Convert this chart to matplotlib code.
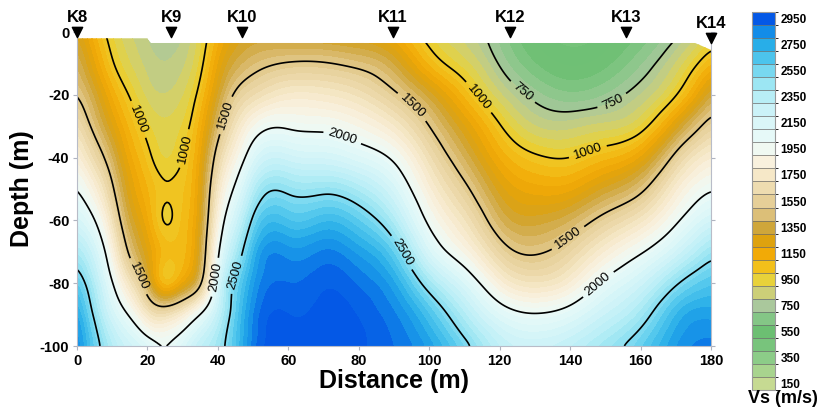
import numpy as np
import matplotlib
matplotlib.use("Agg")
import matplotlib.pyplot as plt
import matplotlib.tri as mtri
from matplotlib.colors import ListedColormap, BoundaryNorm, LinearSegmentedColormap, Normalize
from matplotlib.patches import Polygon
from matplotlib.cm import ScalarMappable

plt.rcParams["font.family"] = ["Liberation Sans", "DejaVu Sans"]
plt.rcParams["axes.unicode_minus"] = False

# grid (distance in m, depth in m)
dist = [0, 5, 10, 15, 20, 25, 30, 35, 40, 45, 50, 60, 70, 80, 90, 100, 110, 120, 130, 140, 150, 160, 170, 180]
depth = [0, -10, -20, -30, -40, -50, -60, -70, -80, -90, -100]

# Vs (m/s) per distance column, top to bottom
vs_columns = [
    [1300, 1400, 1510, 1670, 1840, 2010, 2180, 2400, 2620, 2780, 2860],  # 0
    [1100, 1200, 1330, 1450, 1620, 1820, 2010, 2200, 2350, 2470, 2580],  # 5
    [940, 1010, 1130, 1250, 1390, 1530, 1680, 1840, 2010, 2180, 2350],   # 10
    [850, 900, 990, 1080, 1160, 1240, 1330, 1460, 1700, 1980, 2220],     # 15
    [800, 830, 880, 960, 1030, 1100, 1160, 1250, 1380, 1720, 2120],      # 20
    [725, 800, 850, 910, 940, 1002, 975, 1060, 1045, 1650, 1990],        # 25
    [790, 835, 890, 950, 995, 1040, 1060, 1080, 1200, 1780, 2120],       # 30
    [900, 960, 1040, 1120, 1180, 1220, 1250, 1300, 1440, 2005, 2300],    # 35
    [1120, 1200, 1300, 1430, 1590, 1730, 1850, 1980, 2140, 2280, 2420],  # 40
    [1250, 1360, 1530, 1700, 1860, 2030, 2200, 2370, 2540, 2600, 2640],  # 45
    [1300, 1440, 1640, 1900, 2120, 2340, 2540, 2700, 2790, 2850, 2880],  # 50
    [1260, 1510, 1760, 1980, 2220, 2465, 2650, 2820, 2900, 2950, 2965],  # 60
    [1250, 1510, 1750, 1960, 2190, 2460, 2690, 2860, 2940, 2975, 2985],  # 70
    [1220, 1460, 1680, 1890, 2110, 2380, 2600, 2780, 2890, 2945, 2965],  # 80
    [1150, 1340, 1530, 1750, 1970, 2170, 2370, 2590, 2760, 2860, 2900],  # 90
    [930, 1080, 1320, 1500, 1660, 1810, 1960, 2150, 2420, 2650, 2780],   # 100
    [820, 920, 1080, 1250, 1390, 1540, 1700, 1880, 2140, 2360, 2550],    # 110
    [680, 740, 860, 1010, 1140, 1270, 1400, 1580, 1820, 2100, 2300],     # 120
    [520, 600, 720, 850, 1020, 1170, 1320, 1480, 1700, 2010, 2240],      # 130
    [470, 540, 660, 830, 1000, 1180, 1390, 1590, 1800, 2080, 2300],      # 140
    [500, 580, 700, 870, 1080, 1310, 1560, 1800, 2040, 2250, 2430],      # 150
    [600, 690, 800, 950, 1200, 1460, 1720, 1980, 2220, 2420, 2590],      # 160
    [720, 850, 990, 1260, 1550, 1780, 1970, 2200, 2480, 2700, 2800],     # 170
    [900, 1100, 1350, 1580, 1800, 1990, 2200, 2450, 2640, 2780, 2870],   # 180
]

# ground surface along the profile
surf_dist = [0, 19.9, 21, 175.5, 180, 180, 0]
surf_depth = [-2, -2, -3.5, -3.5, -5.7, -100, -100]

stations = ["K8", "K9", "K10", "K11", "K12", "K13", "K14"]
station_dist = [0, 26.7, 46.8, 89.7, 122.9, 156, 180]
station_depth = [0, 0, 0, 0, 0, 0, -2]

band_centers = np.arange(150, 3000, 100)
line_levels = [750, 1000, 1500, 2000, 2500]
label_pos = [(17, -28), (30, -37), (17, -78), (38.6, -78), (44.3, -77),
             (40.6, -26), (75.5, -33), (95, -24), (92.6, -70), (113.8, -21),
             (126.6, -19), (151.9, -22), (145, -38), (139, -65), (148.5, -81)]

colors = ['#c6da92', '#a8d48e', '#8ccc88', '#78c47c', '#6cbf72', '#84c686',
          '#aac89c', '#cccf78', '#e8d23a', '#f2c01a', '#f2aa06', '#dea20e',
          '#cfa63a', '#dcbf78', '#e6cf98', '#eedcb0', '#f6e8c8', '#f9f1de',
          '#f0f9f2', '#e6f9f8', '#daf6f8', '#cbf2f8', '#b8eef6', '#9ce6f3',
          '#78d8f0', '#4cc4ec', '#28aee8', '#128ce8', '#0458e6']

# discrete bar, smooth-ish fill
cmap_bar = ListedColormap(colors)
norm_bar = BoundaryNorm(np.arange(100, 3001, 100), cmap_bar.N)
pos = (band_centers - 150) / 2800
cmap_fill = LinearSegmentedColormap.from_list('vs', list(zip(pos, colors)))
norm_fill = Normalize(150, 2950)

fig = plt.figure(figsize=(8.18, 4.11), dpi=100)
ax = fig.add_axes([77/818, 65/411, 634/818, 314/411])

# cubic surface through the grid (both cell diagonals averaged), then a light blur
X, Y = np.meshgrid(dist, depth)
Z = np.array(vs_columns, dtype=float).T
nr, nc = X.shape
idx = np.arange(nr * nc).reshape(nr, nc)
a, b = idx[:-1, :-1].ravel(), idx[:-1, 1:].ravel()
c, d = idx[1:, :-1].ravel(), idx[1:, 1:].ravel()
xf = np.linspace(0, 180, 361)
yf = np.linspace(-100, 0, 201)
XF, YF = np.meshgrid(xf, yf)
ZF = np.zeros_like(XF)
for tris in ([np.column_stack([a, b, d]), np.column_stack([a, d, c])],
             [np.column_stack([a, b, c]), np.column_stack([b, d, c])]):
    tri = mtri.Triangulation(X.ravel(), Y.ravel(), np.vstack(tris))
    interp = mtri.CubicTriInterpolator(tri, Z.ravel(), kind='min_E')
    ZF += np.ma.filled(interp(XF, YF), np.nan) / 2


def blur(arr, sigma, axis):
    r = int(3 * sigma)
    k = np.exp(-0.5 * (np.arange(-r, r + 1) / sigma) ** 2)
    k /= k.sum()
    pad = [(0, 0), (0, 0)]
    pad[axis] = (r, r)
    p = np.pad(arr, pad, mode='edge')
    return np.apply_along_axis(lambda v: np.convolve(v, k, mode='valid'), axis, p)


ZF = blur(blur(ZF, 3.0, 1), 2.5, 0)
ZF = np.clip(ZF, 101, 2999)

clip = Polygon(np.column_stack([surf_dist, surf_depth]), closed=True,
               facecolor='none', edgecolor='none')
ax.add_patch(clip)

cf = ax.contourf(XF, YF, ZF, levels=np.arange(100, 3001, 50), cmap=cmap_fill, norm=norm_fill)
cl = ax.contour(XF, YF, ZF, levels=line_levels, colors='k', linewidths=1.2)
cf.set_clip_path(clip)
cl.set_clip_path(clip)
ax.clabel(cl, fmt='%d', fontsize=9.5, manual=label_pos, inline=True)

ax.scatter(station_dist, station_depth, marker='v', s=55, color='k', clip_on=False, zorder=5)
for name, x, y in zip(stations, station_dist, station_depth):
    ax.annotate(name, (x, y), xytext=(0, 5), textcoords='offset points',
                ha='center', va='bottom', fontsize=12, fontweight='bold',
                annotation_clip=False)

ax.set_xlim(0, 180)
ax.set_ylim(-100, 0)
ax.set_xticks(range(0, 181, 20))
ax.set_yticks(range(-100, 1, 20))
ax.tick_params(direction='out', length=3, color='#b0b4c0', labelsize=10.5, right=True, pad=2.5)
for lab in ax.get_xticklabels() + ax.get_yticklabels():
    lab.set_fontweight('bold')
for side in ['left', 'bottom', 'right']:
    ax.spines[side].set_color('#b8bcc8')
ax.spines['top'].set_visible(False)
ax.set_xlabel('Distance (m)', fontsize=18, fontweight='bold', labelpad=1)
ax.set_ylabel('Depth (m)', fontsize=18, fontweight='bold', labelpad=4)

cax = fig.add_axes([752/818, 21/411, 23/818, 378/411])
cb = fig.colorbar(ScalarMappable(norm=norm_bar, cmap=cmap_bar), cax=cax,
                  ticks=band_centers[::2], drawedges=True)
cb.dividers.set_color('#6a6a6a')
cb.dividers.set_linewidth(0.5)
cb.outline.set_edgecolor('#9a9a9a')
cb.ax.tick_params(length=0, labelsize=8.5, pad=4)
for lab in cb.ax.get_yticklabels():
    lab.set_fontweight('bold')
fig.text(783/818, 1 - 398/411, 'Vs (m/s)', ha='center', va='center',
         fontsize=13, fontweight='bold')

fig.savefig('out.png', dpi=100)
